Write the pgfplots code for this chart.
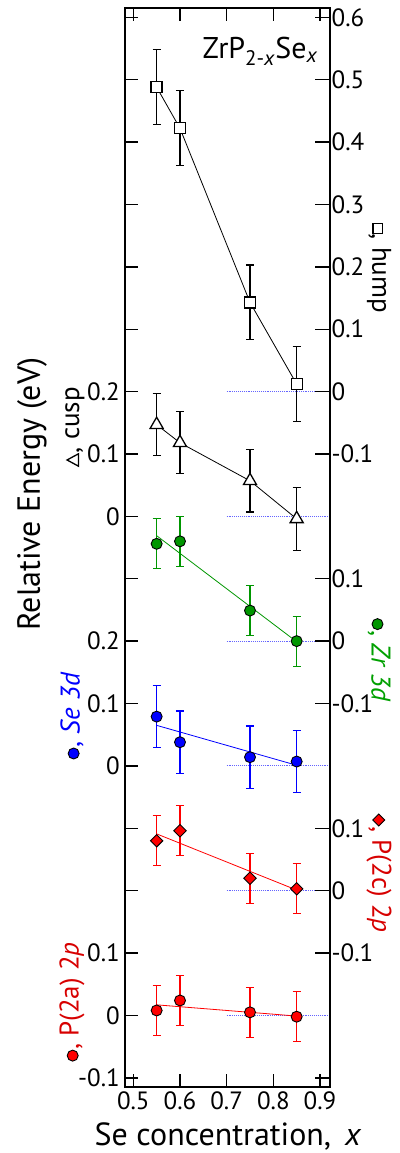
\documentclass[border=0pt]{standalone}
\usepackage{pgfplots}
\usepackage{pgfplotstable}
\pgfplotsset{compat=1.18}
\usepackage{fontspec}
\setmainfont{PT Sans}
\definecolor{zrgreen}{RGB}{0,150,0}
\definecolor{zrtext}{RGB}{0,160,0}
\definecolor{pred}{RGB}{255,0,0}
\definecolor{ptext}{RGB}{215,0,0}
\definecolor{refblue}{RGB}{100,100,255}

\pgfplotstableread{
x y e
0.55 0.488 0.06
0.60 0.422 0.06
0.75 0.143 0.06
0.85 0.012 0.06
}\hump
\pgfplotstableread{
x y e
0.55 0.147 0.05
0.60 0.118 0.05
0.75 0.057 0.05
0.85 -0.004 0.05
}\cusp
\pgfplotstableread{
x y e
0.55 0.156 0.04
0.60 0.160 0.04
0.75 0.049 0.04
0.85 0.000 0.04
}\zr
\pgfplotstableread{
x y e
0.55 0.079 0.05
0.60 0.038 0.05
0.75 0.014 0.05
0.85 0.007 0.05
}\se
\pgfplotstableread{
x y e
0.55 0.080 0.04
0.60 0.096 0.04
0.75 0.020 0.04
0.85 0.003 0.04
}\ptc
\pgfplotstableread{
x y e
0.55 0.008 0.04
0.60 0.024 0.04
0.75 0.005 0.04
0.85 -0.002 0.04
}\pta

\newsavebox\sqbox
\newsavebox\tribox
\newsavebox\zrbox
\newsavebox\sebox
\newsavebox\pabox
\newsavebox\pcbox
\AtBeginDocument{%
\sbox\sqbox{\tikz\draw[line width=1.3pt,fill=white] (0,0) rectangle (9.5pt,9.5pt);}%
\sbox\tribox{\tikz\draw[line width=1.3pt,fill=white,line join=miter] (0,0)--(12.5pt,0)--(6.25pt,11.5pt)--cycle;}%
\sbox\zrbox{\tikz\draw[line width=0.9pt,fill=zrgreen] (0,0) circle (5.5pt);}%
\sbox\sebox{\tikz\draw[line width=0.9pt,fill=blue] (0,0) circle (5.5pt);}%
\sbox\pabox{\tikz\draw[line width=0.9pt,fill=pred] (0,0) circle (5.5pt);}%
\sbox\pcbox{\tikz\draw[line width=0.9pt,fill=pred] (6pt,0)--(12pt,6pt)--(6pt,12pt)--(0,6pt)--cycle;}%
}

\begin{document}%
\begin{tikzpicture}
\path[use as bounding box] (0,0) rectangle (399pt,1153pt);
\pgfplotsset{
  every axis/.append style={
    at={(125pt,66pt)}, anchor=south west, scale only axis,
    width=205pt, height=1079pt,
    xmin=0.4822, xmax=0.9214, ymin=-0.1147, ymax=1.6149,
    axis line style={line width=1.6pt},
    tick align=inside,
    every tick/.style={line width=1.4pt, black},
    tick label style={font=\fontsize{25}{29}\selectfont},
  }
}
\begin{axis}[
  axis on top,
  xtick={0.5,0.6,0.7,0.8,0.9},
  xticklabels={0.5,0.6,0.7,0.8,0.9},
  xtick pos=both, xticklabel pos=lower,
  major tick length=13pt,
  ytick={-0.1,0,0.1,0.2,0.3,0.4,0.5,0.6,0.7,0.8,0.9,1.0,1.1,1.2,1.3,1.4,1.5,1.6},
  yticklabels={-0.1,0,0.1,,,0,0.1,0.2,,0,0.1,0.2,,,,,,},
  ytick pos=left, yticklabel pos=left,
  xticklabel style={inner ysep=4pt},
  yticklabel style={inner xsep=5pt},
  error bars/error bar style={line width=1.1pt},
  error bars/error mark options={rotate=90, mark size=4pt, line width=1.1pt},
]
% zero reference lines
\addplot[refblue, densely dotted, line width=0.9pt] coordinates {(0.7,1.0) (0.92,1.0)};
\addplot[refblue, densely dotted, line width=0.9pt] coordinates {(0.7,0.8) (0.92,0.8)};
\addplot[refblue, densely dotted, line width=0.9pt] coordinates {(0.7,0.6) (0.92,0.6)};
\addplot[refblue, densely dotted, line width=0.9pt] coordinates {(0.7,0.4) (0.92,0.4)};
\addplot[refblue, densely dotted, line width=0.9pt] coordinates {(0.7,0.2) (0.92,0.2)};
\addplot[refblue, densely dotted, line width=0.9pt] coordinates {(0.7,0.0) (0.92,0.0)};
% hump
\addplot[black, line width=0.8pt, mark=square*, mark size=5.5pt,
  mark options={fill=white, line width=1.3pt, solid},
  error bars/.cd, y dir=both, y explicit]
  table[x=x, y expr=\thisrow{y}+1.0, y error=e] {\hump};
% cusp
\addplot[black, line width=0.8pt, mark=triangle*, mark size=7.5pt,
  mark options={fill=white, line width=1.3pt, solid},
  error bars/.cd, y dir=both, y explicit]
  table[x=x, y expr=\thisrow{y}+0.8, y error=e] {\cusp};
% Zr 3d
\addplot[zrgreen, line width=0.8pt] coordinates {(0.55,0.769) (0.85,0.599)};
\addplot[zrgreen, only marks, mark=*, mark size=5.5pt,
  mark options={fill=zrgreen, draw=black, line width=0.9pt},
  error bars/.cd, y dir=both, y explicit]
  table[x=x, y expr=\thisrow{y}+0.6, y error=e] {\zr};
% Se 3d
\addplot[blue, line width=0.8pt] coordinates {(0.55,0.465) (0.85,0.401)};
\addplot[blue, only marks, mark=*, mark size=5.5pt,
  mark options={fill=blue, draw=black, line width=0.9pt},
  error bars/.cd, y dir=both, y explicit]
  table[x=x, y expr=\thisrow{y}+0.4, y error=e] {\se};
% P(2c) 2p
\addplot[pred, line width=0.8pt] coordinates {(0.55,0.291) (0.85,0.201)};
\addplot[pred, only marks, mark=square*, mark size=4.4pt,
  mark options={fill=pred, draw=black, line width=0.9pt, rotate=45},
  error bars/.cd, y dir=both, y explicit]
  table[x=x, y expr=\thisrow{y}+0.2, y error=e] {\ptc};
% P(2a) 2p
\addplot[pred, line width=0.8pt] coordinates {(0.55,0.017) (0.85,-0.001)};
\addplot[pred, only marks, mark=*, mark size=5.5pt,
  mark options={fill=pred, draw=black, line width=0.9pt},
  error bars/.cd, y dir=both, y explicit]
  table[x=x, y expr=\thisrow{y}, y error=e] {\pta};
\end{axis}
\begin{axis}[
  xtick=\empty,
  major tick length=15pt,
  ytick={-0.1,0.1,0.2,0.3,0.5,0.6,0.7,0.9,1.0,1.1,1.2,1.3,1.4,1.5,1.6},
  yticklabels={,-0.1,0,0.1,-0.1,0,0.1,-0.1,0,0.1,0.2,0.3,0.4,0.5,0.6},
  ytick pos=right, yticklabel pos=right,
  yticklabel style={inner xsep=1.5pt},
]
\end{axis}
% labels
\node[font=\fontsize{32}{36}\selectfont, rotate=90] at (32pt,659pt) {Relative Energy (eV)};
\node[font=\fontsize{32}{36}\selectfont, anchor=base] at (228pt,8pt) {Se concentration,\, \textit{x}};
\node[font=\fontsize{30}{34}\selectfont, anchor=base west] at (199pt,1094pt) {ZrP\textsubscript{2-\textit{x}}Se\textsubscript{\textit{x}}};
\node[font=\fontsize{27}{31}\selectfont, rotate=90] at (75pt,726pt) {\usebox\tribox, cusp};
\node[font=\fontsize{27}{31}\selectfont, rotate=90, text=blue] at (72pt,437pt) {\usebox\sebox, \textit{Se 3d}};
\node[font=\fontsize{27}{31}\selectfont, rotate=90, text=ptext] at (72pt,151pt) {\usebox\pabox, P(2a) 2\textit{p}};
\node[font=\fontsize{27}{31}\selectfont, rotate=-90] at (379pt,885pt) {\usebox\sqbox, hump};
\node[font=\fontsize{27}{31}\selectfont, rotate=-90, text=zrtext] at (379pt,493pt) {\usebox\zrbox, \textit{Zr 3d}};
\node[font=\fontsize{27}{31}\selectfont, rotate=-90, text=ptext] at (379pt,280pt) {\usebox\pcbox, P(2c) 2\textit{p}};
\end{tikzpicture}%
\end{document}
